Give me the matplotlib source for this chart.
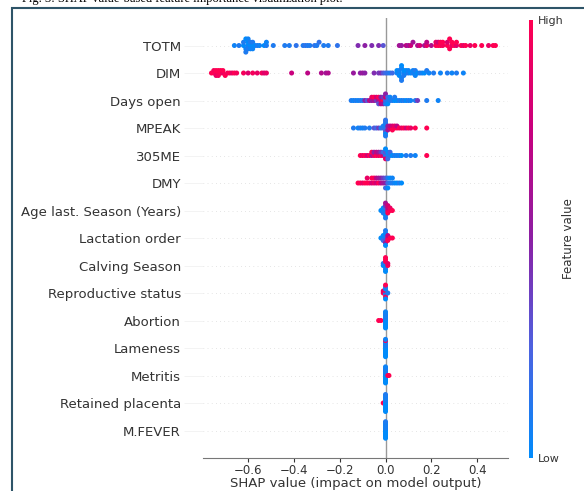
import numpy as np
import matplotlib
matplotlib.use("Agg")
import matplotlib.pyplot as plt
from matplotlib.colors import LinearSegmentedColormap
from matplotlib.patches import Rectangle

# nomes das variaveis (de cima para baixo)
features = ["TOTM", "DIM", "Days open", "MPEAK", "305ME", "DMY",
            "Age last. Season (Years)", "Lactation order", "Calving Season",
            "Reproductive status", "Abortion", "Lameness", "Metritis",
            "Retained placenta", "M.FEVER"]

# valores SHAP e valor da variavel (0 = baixo, 1 = alto)
totm_shap = [-0.66, -0.64, -0.62, -0.62, -0.61, -0.61, -0.61, -0.60, -0.60, -0.60, -0.60,
             -0.59, -0.59, -0.59, -0.58, -0.58, -0.58, -0.57, -0.56, -0.55, -0.53, -0.52,
             -0.52, -0.49, -0.44, -0.42, -0.39, -0.36, -0.35, -0.34, -0.33, -0.31, -0.30,
             -0.29, -0.27, -0.25, -0.21,
             -0.12, -0.09, -0.06, -0.03, -0.01,
             0.06, 0.07, 0.09, 0.10, 0.11, 0.12, 0.14, 0.15, 0.17, 0.18, 0.18, 0.20,
             0.22, 0.22, 0.23, 0.23, 0.24, 0.24, 0.25, 0.25, 0.27, 0.27, 0.28, 0.28,
             0.29, 0.29, 0.30, 0.31, 0.31, 0.33, 0.34, 0.35, 0.37, 0.39, 0.42, 0.45,
             0.47, 0.48]
totm_feat = [0.05, 0.1, 0.0, 0.1, 0.05, 0.0, 0.1, 0.05, 0.0, 0.1, 0.05,
             0.0, 0.1, 0.05, 0.0, 0.1, 0.05, 0.0, 0.1, 0.05, 0.0, 0.1,
             0.05, 0.1, 0.1, 0.1, 0.15, 0.1, 0.15, 0.1, 0.1, 0.15, 0.1,
             0.15, 0.1, 0.1, 0.15,
             0.45, 0.5, 0.45, 0.45, 0.3,
             0.6, 0.55, 0.7, 0.6, 0.75, 0.6, 0.65, 0.8, 0.6, 0.9, 0.7, 0.65,
             1.0, 0.9, 1.0, 0.8, 1.0, 1.0, 0.95, 1.0, 1.0, 0.85, 1.0, 1.0,
             0.9, 1.0, 1.0, 0.85, 1.0, 1.0, 0.9, 1.0, 0.9, 1.0, 1.0, 0.9,
             1.0, 1.0]

dim_shap = [-0.76, -0.75, -0.75, -0.74, -0.74, -0.74, -0.73, -0.73, -0.73, -0.72, -0.72,
            -0.71, -0.71, -0.70, -0.69, -0.68, -0.67, -0.66, -0.65,
            -0.62, -0.60, -0.58, -0.56, -0.54, -0.53, -0.52,
            -0.41, -0.34, -0.28, -0.26, -0.25, -0.14, -0.11, -0.10, -0.09, -0.05,
            -0.03, -0.02, -0.01,
            0.00, 0.01, 0.02, 0.03, 0.05, 0.05, 0.06, 0.06, 0.06, 0.07, 0.07, 0.07,
            0.07, 0.08, 0.08, 0.08, 0.09, 0.09, 0.10, 0.10, 0.11, 0.12, 0.12, 0.13,
            0.13, 0.13, 0.14, 0.15, 0.16, 0.17, 0.18, 0.19, 0.21, 0.24, 0.27, 0.29,
            0.31, 0.34]
dim_feat = [1.0, 1.0, 0.95, 1.0, 1.0, 0.9, 1.0, 1.0, 0.95, 1.0, 1.0,
            0.9, 1.0, 1.0, 0.95, 1.0, 0.9, 1.0, 0.95,
            0.95, 0.85, 0.95, 0.9, 0.95, 0.85, 0.9,
            0.75, 0.7, 0.65, 0.6, 0.65, 0.55, 0.5, 0.55, 0.5, 0.45,
            0.4, 0.45, 0.3,
            0.2, 0.15, 0.1, 0.2, 0.05, 0.0, 0.1, 0.05, 0.0, 0.1, 0.05, 0.0,
            0.1, 0.05, 0.0, 0.1, 0.05, 0.0, 0.1, 0.05, 0.0, 0.1, 0.05, 0.0,
            0.1, 0.05, 0.0, 0.1, 0.05, 0.0, 0.1, 0.05, 0.1, 0.05, 0.1, 0.05,
            0.1, 0.05]

days_shap = [-0.15, -0.14, -0.13, -0.12, -0.11, -0.10, -0.09, -0.08, -0.07, -0.06, -0.06,
             -0.05, -0.05, -0.04, -0.04, -0.03, -0.03, -0.03, -0.02, -0.02, -0.02,
             -0.01, -0.01, -0.01, 0.00, 0.00, 0.00, 0.00, 0.01, 0.01, 0.01, 0.02,
             0.02, 0.03, 0.04, 0.04, 0.05, 0.06, 0.07, 0.08, 0.09, 0.10, 0.11,
             0.13, 0.14, 0.18, 0.23]
days_feat = [0.1, 0.05, 0.1, 0.05, 0.1, 0.1, 0.5, 0.3, 0.7, 0.5, 0.9,
             0.6, 1.0, 0.4, 0.8, 0.6, 1.0, 0.3, 0.9, 0.5, 0.7,
             1.0, 0.4, 0.6, 0.2, 0.8, 0.1, 0.5, 0.1, 0.2, 0.0, 0.1,
             0.05, 0.1, 0.0, 0.1, 0.0, 0.1, 0.05, 0.1, 0.0, 0.1, 0.05,
             0.1, 0.4, 0.1, 0.05]

mpeak_shap = [-0.14, -0.12, -0.11, -0.10, -0.09, -0.07, -0.05, -0.04, -0.03, -0.02,
              -0.01, -0.01, 0.00, 0.00, 0.00, 0.00, 0.00, 0.00, 0.00, 0.00, 0.00,
              0.01, 0.01, 0.01, 0.02, 0.02, 0.03, 0.03, 0.03, 0.04, 0.04, 0.05,
              0.05, 0.06, 0.07, 0.08, 0.09, 0.10, 0.11, 0.13, 0.18]
mpeak_feat = [0.1, 0.05, 0.1, 0.05, 0.1, 0.1, 0.3, 0.2, 0.4, 0.1,
              0.2, 0.1, 0.0, 0.1, 0.2, 0.05, 0.3, 0.1, 0.0, 0.15, 0.1,
              0.3, 0.5, 0.6, 0.9, 0.7, 1.0, 0.8, 1.0, 1.0, 0.9, 1.0,
              0.7, 1.0, 0.9, 1.0, 0.8, 1.0, 0.9, 1.0, 1.0]

me305_shap = [-0.11, -0.10, -0.09, -0.08, -0.07, -0.06, -0.06, -0.05, -0.05, -0.04,
              -0.04, -0.03, -0.03, -0.02, -0.02, -0.01, -0.01, 0.00, 0.00, 0.00,
              0.00, 0.01, 0.01, 0.01, 0.02, 0.02, 0.03, 0.04, 0.05, 0.06, 0.07,
              0.09, 0.11, 0.13, 0.18]
me305_feat = [1.0, 0.9, 1.0, 0.8, 1.0, 0.6, 1.0, 0.9, 0.5, 1.0,
              0.7, 0.9, 0.6, 1.0, 0.4, 0.8, 0.2, 0.1, 0.3, 0.9,
              0.0, 0.1, 0.0, 0.2, 0.1, 0.2, 0.0, 0.1, 0.05, 0.1, 0.0,
              0.1, 0.1, 0.05, 1.0]

dmy_shap = [-0.12, -0.11, -0.10, -0.09, -0.08, -0.08, -0.07, -0.06, -0.06, -0.05,
            -0.05, -0.04, -0.04, -0.03, -0.03, -0.02, -0.02, -0.01, -0.01, 0.00,
            0.00, 0.00, 0.01, 0.01, 0.01, 0.02, 0.02, 0.03, 0.03, 0.04, 0.05,
            0.06, 0.07]
dmy_feat = [1.0, 1.0, 0.9, 1.0, 1.0, 0.9, 1.0, 0.8, 1.0, 0.9,
            1.0, 0.8, 0.7, 1.0, 0.6, 0.7, 0.5, 0.6, 0.4, 0.5,
            0.3, 0.2, 0.2, 0.1, 0.0, 0.1, 0.0, 0.1, 0.05, 0.05, 0.0,
            0.1, 0.0]

age_shap = [-0.02, -0.01, -0.01, -0.01, 0.00, 0.00, 0.00, 0.00, 0.00, 0.00, 0.00,
            0.01, 0.01, 0.01, 0.01, 0.02, 0.02, 0.03]
age_feat = [0.0, 0.1, 0.0, 0.1, 0.0, 0.2, 0.1, 0.4, 0.0, 0.6, 0.1,
            0.9, 0.7, 1.0, 0.8, 1.0, 0.9, 1.0]

lact_shap = [-0.02, -0.01, -0.01, -0.01, 0.00, 0.00, 0.00, 0.00, 0.00, 0.00, 0.00,
             0.01, 0.01, 0.01, 0.02, 0.03]
lact_feat = [0.0, 0.1, 0.0, 0.2, 0.0, 0.1, 0.3, 0.0, 0.5, 0.1, 0.0,
             0.9, 0.7, 1.0, 1.0, 1.0]

calv_shap = [-0.01, -0.01, 0.00, 0.00, 0.00, 0.00, 0.00, 0.00, 0.00, 0.00, 0.01, 0.01]
calv_feat = [0.0, 0.1, 0.0, 0.1, 0.0, 1.0, 0.1, 1.0, 0.0, 1.0, 1.0, 0.9]

repro_shap = [-0.01, -0.01, 0.00, 0.00, 0.00, 0.00, 0.00, 0.00, 0.00, 0.00, 0.01]
repro_feat = [1.0, 0.9, 0.0, 1.0, 0.1, 0.0, 1.0, 0.1, 0.0, 1.0, 0.1]

abort_shap = [-0.03, -0.02, 0.00, 0.00, 0.00, 0.00, 0.00, 0.00, 0.00, 0.00,
              0.00, 0.00, 0.00, 0.00, 0.00, 0.00]
abort_feat = [1.0, 1.0, 0.0, 0.05, 0.0, 0.1, 0.0, 0.05, 0.0, 0.1,
              0.0, 0.05, 0.0, 0.1, 0.0, 0.05]

lame_shap = [0.00, 0.00, 0.00, 0.00, 0.00, 0.00, 0.00, 0.00, 0.00, 0.00,
             0.00, 0.00, 0.00, 0.00, 0.00]
lame_feat = [0.0, 0.05, 0.0, 0.1, 0.0, 0.05, 0.0, 0.1, 0.0, 0.05,
             0.0, 1.0, 0.0, 0.05, 0.0]

metr_shap = [0.00, 0.00, 0.00, 0.00, 0.00, 0.00, 0.00, 0.00, 0.00, 0.00,
             0.00, 0.00, 0.00, 0.00, 0.01, 0.015]
metr_feat = [0.0, 0.05, 0.0, 0.1, 0.0, 0.05, 0.0, 0.1, 0.0, 0.05,
             0.0, 0.1, 0.0, 0.05, 1.0, 1.0]

ret_shap = [-0.01, 0.00, 0.00, 0.00, 0.00, 0.00, 0.00, 0.00, 0.00, 0.00,
            0.00, 0.00, 0.00, 0.00]
ret_feat = [1.0, 0.0, 0.05, 0.0, 0.1, 0.0, 0.05, 0.0, 0.1, 0.0,
            0.05, 0.0, 0.1, 0.0]

fever_shap = [0.00, 0.00, 0.00, 0.00, 0.00, 0.00, 0.00, 0.00, 0.00, 0.00,
              0.00, 0.00, 0.00, 0.00, 0.00, 0.00]
fever_feat = [0.0, 0.05, 0.0, 0.1, 0.0, 0.05, 0.0, 0.1, 0.0, 0.05,
              0.0, 0.1, 0.0, 0.05, 0.0, 0.1]

shap_vals = [totm_shap, dim_shap, days_shap, mpeak_shap, me305_shap, dmy_shap,
             age_shap, lact_shap, calv_shap, repro_shap, abort_shap, lame_shap,
             metr_shap, ret_shap, fever_shap]
feat_vals = [totm_feat, dim_feat, days_feat, mpeak_feat, me305_feat, dmy_feat,
             age_feat, lact_feat, calv_feat, repro_feat, abort_feat, lame_feat,
             metr_feat, ret_feat, fever_feat]

caption = "Fig. 3: SHAP value-based feature importance visualization plot."

# mapa de cores azul -> roxo -> vermelho
red_blue = LinearSegmentedColormap.from_list("red_blue", [
    (0.0, "#008bfb"), (0.25, "#4d62e0"), (0.5, "#8c1fa4"),
    (0.75, "#c8007e"), (1.0, "#ff0052")])


# deslocamento vertical dos pontos (beeswarm)
def desloca(vals, row_height=0.4, nbins=100):
    vals = np.asarray(vals, dtype=float)
    quant = np.round(nbins * (vals - vals.min()) / (vals.max() - vals.min() + 1e-8))
    inds = np.argsort(quant, kind="stable")
    ys = np.zeros(len(vals))
    layer = 0
    last_bin = -1
    for ind in inds:
        if quant[ind] != last_bin:
            layer = 0
        ys[ind] = np.ceil(layer / 2) * ((layer % 2) * 2 - 1)
        layer += 1
        last_bin = quant[ind]
    ys *= 0.9 * (row_height / np.max(ys + 1))
    return ys


fig = plt.figure(figsize=(5.84, 4.91), dpi=100)
ax = fig.add_axes([0.3476, 0.0672, 0.5223, 0.8961])
n = len(features)

ax.axvline(0, color="#999999", lw=1, zorder=-1)
for i, nome in enumerate(features):
    pos = n - 1 - i
    ax.axhline(pos, color="#cccccc", lw=0.5, dashes=(1, 5), zorder=-1)
    x = np.asarray(shap_vals[i])
    y = pos + desloca(x)
    ax.scatter(x, y, c=feat_vals[i], cmap=red_blue, vmin=0, vmax=1,
               s=13, linewidths=0, zorder=3)

ax.set_xlim(-0.797, 0.535)
ax.set_ylim(-1, n)
ax.set_yticks(range(n))
ax.set_yticklabels(features[::-1], fontsize=9.5, color="#333333")
ax.tick_params("y", length=14, width=0.5, color="#eeeeee", pad=2)
ax.set_xticks([-0.6, -0.4, -0.2, 0.0, 0.2, 0.4])
ax.tick_params("x", labelsize=8.5, colors="#333333", length=3, pad=1.5)
ax.set_xlabel("SHAP value (impact on model output)", fontsize=9.5, color="#333333",
              labelpad=0)
for lado in ["top", "right", "left"]:
    ax.spines[lado].set_visible(False)
ax.spines["bottom"].set_color("#777777")

# barra de cores
cax = fig.add_axes([0.9058, 0.0672, 0.0068, 0.892])
sm = plt.cm.ScalarMappable(cmap=red_blue, norm=plt.Normalize(0, 1))
cb = fig.colorbar(sm, cax=cax, ticks=[0, 1])
cb.set_ticklabels(["Low", "High"])
cb.ax.tick_params(labelsize=8, length=0, colors="#333333")
cb.outline.set_visible(False)
cb.set_label("Feature value", size=8.5, color="#333333", labelpad=-1)

# legenda da figura (cortada) e moldura
fig.text(22 / 584, 1 - 2 / 491, caption, fontsize=9, family="Liberation Serif",
         va="baseline", ha="left")
fig.patches.append(Rectangle((12 / 584, -0.1), 1.2, 1 + 0.1 - 8 / 491,
                             transform=fig.transFigure, fill=False,
                             edgecolor="#2e5468", lw=1.5))

fig.savefig("out.png", dpi=100)
